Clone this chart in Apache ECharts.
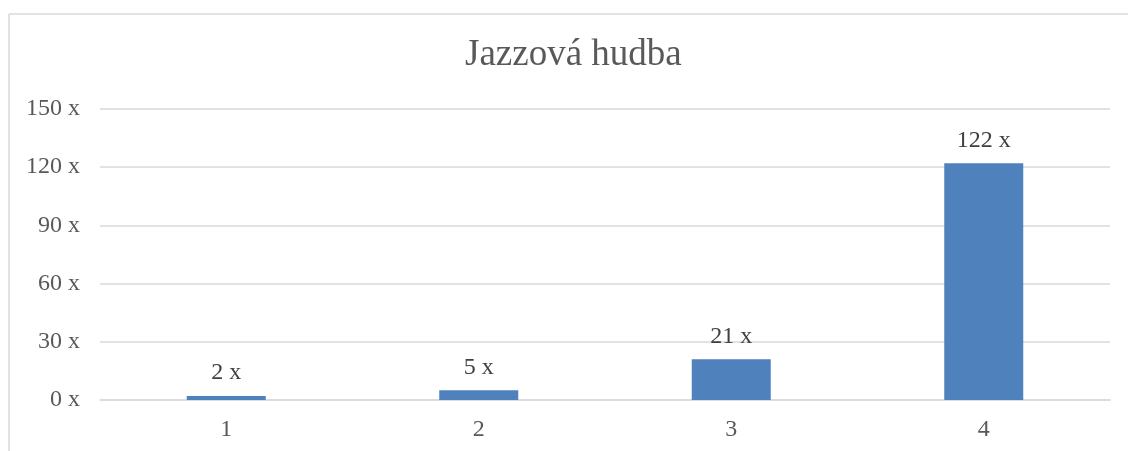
<!DOCTYPE html>
<html>
<head>
<meta charset="utf-8">
<script src="https://cdn.jsdelivr.net/npm/echarts@6/dist/echarts.min.js"></script>
<style>
  html, body { margin: 0; padding: 0; background: #fff; }
  #main { width: 1128px; height: 451px; }
</style>
</head>
<body>
<div id="main"></div>
<script>
var categories = ['1', '2', '3', '4'];
var counts = [2, 5, 21, 122];
var yTicks = { min: 0, max: 150, step: 30 };

var serif = "'Liberation Serif', 'Times New Roman', serif";
var chart = echarts.init(document.getElementById('main'));
var option = {
    backgroundColor: '#fff',
    animation: false,
    title: {
        text: 'Jazzová hudba',
        left: 465,
        top: 37,
        padding: 0,
        textStyle: {
            fontFamily: serif,
            fontSize: 37,
            fontWeight: 'normal',
            color: '#595959'
        }
    },
    graphic: [
        { type: 'line', shape: { x1: 9, y1: 14, x2: 1128, y2: 14 }, style: { stroke: '#d9d9d9', lineWidth: 1.5 } },
        { type: 'line', shape: { x1: 9, y1: 14, x2: 9, y2: 451 }, style: { stroke: '#d9d9d9', lineWidth: 1.5 } }
    ],
    grid: { left: 100, right: 18, top: 109, bottom: 51 },
    xAxis: {
        type: 'category',
        data: categories,
        axisLine: { lineStyle: { color: '#d9d9d9', width: 1.5 } },
        axisTick: { show: false },
        axisLabel: { fontFamily: serif, fontSize: 24, color: '#595959', margin: 18 }
    },
    yAxis: {
        type: 'value',
        min: yTicks.min,
        max: yTicks.max,
        interval: yTicks.step,
        axisLine: { show: false },
        axisTick: { show: false },
        splitLine: { lineStyle: { color: '#d9d9d9', width: 1.5 } },
        axisLabel: {
            fontFamily: serif, fontSize: 24, color: '#595959', margin: 20,
            formatter: function (v) { return v + ' x'; }
        }
    },
    series: [{
        type: 'bar',
        data: counts,
        barWidth: 79,
        itemStyle: { color: '#4f81bd' },
        label: {
            show: true,
            position: 'top',
            distance: 11,
            fontFamily: serif,
            fontSize: 24,
            color: '#404040',
            formatter: function (p) { return p.value + ' x'; }
        }
    }]
};
chart.setOption(option);
</script>
</body>
</html>
